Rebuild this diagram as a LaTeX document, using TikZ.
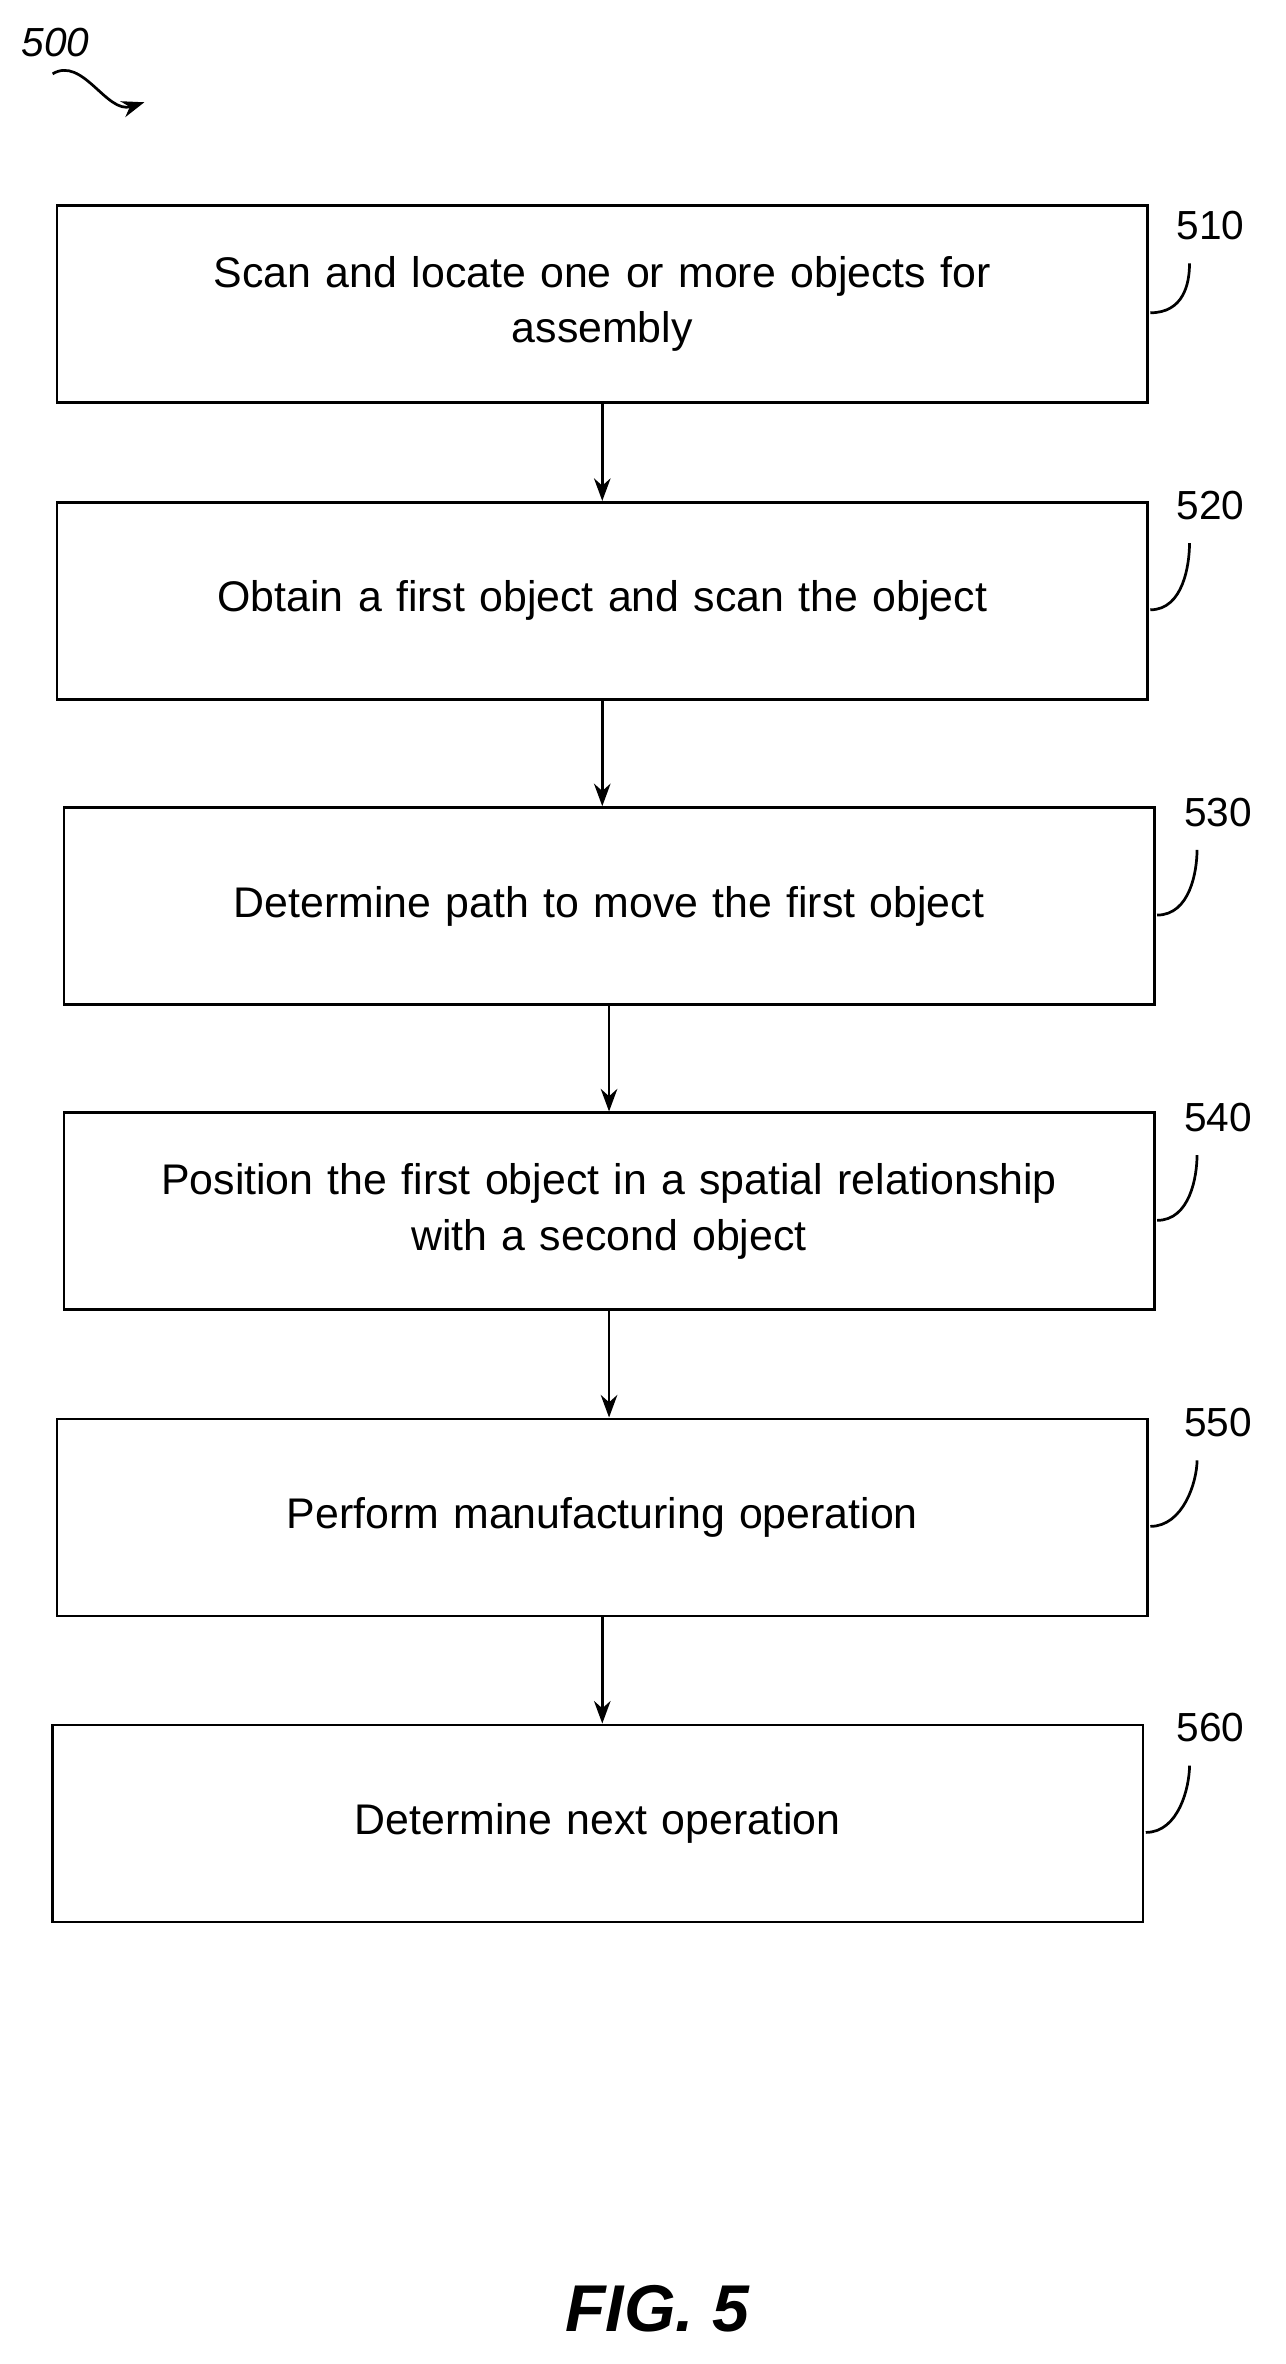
\documentclass[tikz,border=0pt]{standalone}
\usepackage{fontspec}
\setmainfont{Liberation Sans}
\usetikzlibrary{arrows, arrows.meta}

\begin{document}
\begin{tikzpicture}[x=1pt, y=-1pt,
    stepbox/.style = {draw, line width = 1.8pt, minimum width = 725pt, minimum height = 131pt,
                   align = center, text width = 700pt, font = \fontsize{28.5}{37}\selectfont},
    num/.style = {font = \fontsize{27}{32}\selectfont},
    lead/.style = {line width = 1.8pt},
    flow/.style = {-{Stealth[length=15pt, width=11pt]}, line width = 1.8pt}]
  \useasboundingbox (0,0) rectangle (855,1572);
  % steps
  \node[stepbox] (s510) at (400.5,202) {Scan and locate one or more objects for\\ assembly};
  \node[stepbox] (s520) at (400.5,399.5) {Obtain a first object and scan the object};
  \node[stepbox] (s530) at (405,602.5) {Determine path to move the first object};
  \node[stepbox] (s540) at (405,805.5) {Position the first object in a spatial relationship\\ with a second object};
  \node[stepbox] (s550) at (400.5,1009) {Perform manufacturing operation};
  \node[stepbox] (s560) at (397.5,1212.5) {Determine next operation};
  % reference numerals
  \foreach \s/\x/\y in {510/805/150, 520/805/336, 530/810/540, 540/810/743, 550/810/946, 560/805/1149} {
    \node[num] (n\s) at (\x,\y) {\s};
    \coordinate (c\s) at ([xshift=-14pt, yshift=-12pt]n\s.south);
    \draw[lead] ([xshift=1pt, yshift=-6pt]s\s.east) .. controls +(22,0) and +(0,14) .. (c\s);
  }
  \foreach \a/\b in {510/520, 520/530, 530/540, 540/550, 550/560}
    \draw[flow] (s\a.south) -- (s\a.south |- s\b.north);
  % title and figure label
  \node[num, font = \fontsize{27}{32}\itshape] (t500) at (37,28) {500};
  \coordinate (a500) at (96,68);
  \draw[flow] (t500.south) ++(-2,8) .. controls +(20,-12) and +(-25,8) .. (a500);
  \node[font = \fontsize{44}{50}\bfseries\itshape] (fig) at (437,1535) {FIG. 5};
\end{tikzpicture}
\end{document}
